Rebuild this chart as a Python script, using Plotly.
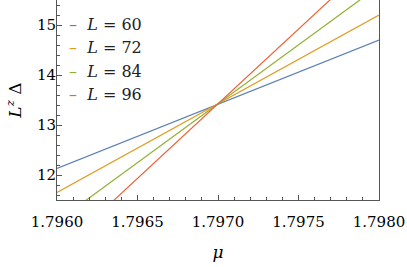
import plotly.graph_objects as go

mu = [1.7960, 1.7970, 1.7980]
L_values = [60, 72, 84, 96]
y_L60 = [12.13, 13.42, 14.70]
y_L72 = [11.65, 13.42, 15.20]
y_L84 = [11.07, 13.42, 15.78]
y_L96 = [10.44, 13.42, 16.41]
colors = ["#5E81B5", "#E19C24", "#8FB032", "#EB6235"]
x_ticks = [1.7960, 1.7965, 1.7970, 1.7975, 1.7980]
x_ticklabels = ["1.7960", "1.7965", "1.7970", "1.7975", "1.7980"]
y_ticks = [12, 13, 14, 15]

series = [y_L60, y_L72, y_L84, y_L96]
SERIF = "DejaVu Serif"

fig = go.Figure()
for L, ys, c in zip(L_values, series, colors):
    fig.add_trace(go.Scatter(x=mu, y=ys, mode="lines", name=f"L = {L}",
                             line=dict(color=c, width=1.2), showlegend=False))

annotations = []
for i, (L, c) in enumerate(zip(L_values, colors)):
    annotations.append(dict(
        xref="paper", yref="paper", x=0.03, y=0.8775 - i * 0.117,
        xanchor="left", yanchor="middle", showarrow=False,
        text=f'<span style="color:{c}">–</span>  <i>L</i> = {L}',
        font=dict(family=SERIF, size=16, color="#222")))

fig.update_layout(
    width=407, height=267,
    margin=dict(l=57, r=28, t=0, b=67),
    plot_bgcolor="white", paper_bgcolor="white",
    font=dict(family=SERIF),
    annotations=annotations,
    xaxis=dict(range=[1.7960, 1.7980], tickvals=x_ticks, ticktext=x_ticklabels,
               ticks="inside", ticklen=5, tickcolor="#555", tickwidth=1,
               minor=dict(ticks="inside", ticklen=3, dtick=0.0001, tickcolor="#555", showgrid=False),
               showline=True, linecolor="#555", linewidth=1, mirror=True,
               showgrid=False, zeroline=False, ticklabelstandoff=8,
               tickfont=dict(family=SERIF, size=15, color="black"),
               title=dict(text="<i>μ</i>", font=dict(family=SERIF, size=17, color="black"), standoff=16)),
    yaxis=dict(range=[11.5, 15.5], tickvals=y_ticks,
               ticks="inside", ticklen=5, tickcolor="#555", tickwidth=1,
               minor=dict(ticks="inside", ticklen=3, dtick=0.2, tickcolor="#555", showgrid=False),
               showline=True, linecolor="#555", linewidth=1, mirror=True,
               showgrid=False, zeroline=False, ticklabelstandoff=-3,
               tickfont=dict(family=SERIF, size=15, color="black"),
               title=dict(text="<i>L</i><sup><i>z</i></sup> Δ", font=dict(family=SERIF, size=17, color="black"), standoff=10)),
)

fig.write_html("out.html", config={"displayModeBar": False},
               post_script="document.body.style.margin='0';")
